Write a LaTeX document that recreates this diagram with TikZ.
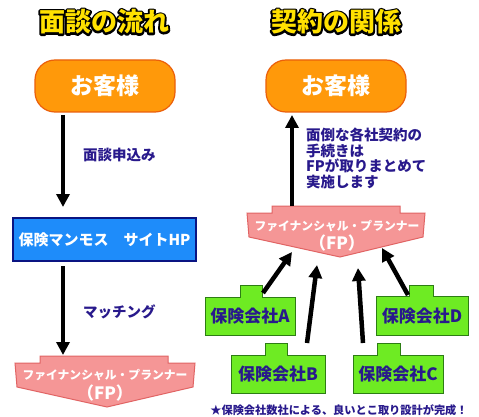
\documentclass[tikz,border=0pt]{standalone}
\usepackage{fontspec}
\setmainfont{Noto Sans CJK JP}
\usetikzlibrary{arrows.meta}
\definecolor{orfill}{RGB}{255,153,10}
\definecolor{ordraw}{RGB}{235,95,10}
\definecolor{bluefill}{RGB}{30,140,250}
\definecolor{bluedraw}{RGB}{10,20,130}
\definecolor{pinkfill}{RGB}{245,150,150}
\definecolor{pinkdraw}{RGB}{225,100,100}
\definecolor{grfill}{RGB}{110,235,35}
\definecolor{grdraw}{RGB}{45,125,20}
\definecolor{navy}{RGB}{40,25,140}
\definecolor{titley}{RGB}{255,225,0}
\newcommand{\strokedtext}[1]{\special{pdf:literal direct 1 j 3.8 w 2 Tr}#1\special{pdf:literal direct 0 Tr 0.4 w}}
\tikzset{
  titletext/.style={inner sep=0pt, font=\fontsize{26}{28}\selectfont\bfseries, text=titley},
  titleback/.style={inner sep=0pt, font=\fontsize{26}{28}\selectfont\bfseries, text=black},
  custbox/.style={draw=ordraw, fill=orfill, line width=1.2pt, rounded corners=20pt,
    minimum width=140pt, minimum height=52pt, text=white, font=\fontsize{23}{25}\selectfont\bfseries},
  sitebox/.style={draw=bluedraw, fill=bluefill, line width=1.4pt,
    minimum width=183pt, minimum height=43pt, text=white, font=\fontsize{15}{17}\selectfont\bfseries},
  fpshape/.style={draw=pinkdraw, fill=pinkfill, line width=1pt},
  fptext/.style={inner sep=0pt, text=white, font=\fontsize{11.8}{13}\selectfont\bfseries},
  fpsub/.style={inner sep=0pt, text=white, font=\fontsize{17}{18}\selectfont\bfseries},
  grshape/.style={draw=grdraw, fill=grfill, line width=1pt},
  grtext/.style={inner sep=0pt, text=navy, font=\fontsize{17}{19}\selectfont\bfseries},
  lbl/.style={inner sep=0pt, text=navy, font=\fontsize{14.5}{15.5}\selectfont\bfseries},
  bigarrow/.style={line width=4.5pt, -{Triangle[length=13pt,width=13pt]}},
}
\begin{document}
\begin{tikzpicture}[x=1pt,y=-1pt]
\useasboundingbox (0,0) rectangle (479,417);
\fill[white] (0,0) rectangle (479,417);

% titles (black stroked layer under yellow layer)
\node[titleback] (t1s) at (104,22) {\strokedtext{面談の流れ}};
\node[titletext] (t1) at (104,22) {面談の流れ};
\node[titleback] (t2s) at (336,22) {\strokedtext{契約の関係}};
\node[titletext] (t2) at (336,22) {契約の関係};

% customer boxes
\node[custbox] (c1) at (105,86) {お客様};
\node[custbox] (c2) at (336,86) {お客様};

% site box
\node[sitebox] (hp) at (104.5,239.5) {保険マンモス　サイトHP};

% left FP shape
\path[fpshape] (40,356) -- (168,356) -- (168,363) -- (195,363) -- (193,387)
  -- (107,407) -- (17,387) -- (15,363) -- (40,363) -- cycle;
\node[fptext] (fp1a) at (105,375) {ファイナンシャル・プランナー};
\node[fpsub] (fp1b) at (105,393) {（FP）};

% right FP shape
\path[fpshape] (272,206) -- (400,206) -- (400,213) -- (425,213) -- (423,237)
  -- (340,257) -- (249,237) -- (247,213) -- (272,213) -- cycle;
\node[fptext] (fp2a) at (337,226) {ファイナンシャル・プランナー};
\node[fpsub] (fp2b) at (337,243) {（FP）};

% green boxes
\path[grshape] (205,297) -- (240,297) -- (240,285) -- (262,285) -- (262,297)
  -- (295,297) -- (295,335) -- (205,335) -- cycle;
\node[grtext] (ga) at (250,316) {保険会社A};
\path[grshape] (231,355) -- (265,355) -- (265,343) -- (287,343) -- (287,355)
  -- (325,355) -- (325,393) -- (231,393) -- cycle;
\node[grtext] (gb) at (278,374) {保険会社B};
\path[grshape] (353,355) -- (377,355) -- (377,343) -- (400,343) -- (400,355)
  -- (443,355) -- (443,393) -- (353,393) -- cycle;
\node[grtext] (gc) at (398,374) {保険会社C};
\path[grshape] (376,296) -- (409,296) -- (409,285) -- (433,285) -- (433,296)
  -- (468,296) -- (468,335) -- (376,335) -- cycle;
\node[grtext] (gd) at (422,316) {保険会社D};

% arrow end coordinates
\coordinate (a1s) at (63,115);
\coordinate (a1e) at (63,207);
\coordinate (a2s) at (63,266);
\coordinate (a2e) at (63,355);
\coordinate (a3s) at (292,206);
\coordinate (a3e) at (292,115);
\coordinate (aAs) at (263,293);
\coordinate (aAe) at (292,252);
\coordinate (aBs) at (307,343);
\coordinate (aBe) at (317,265);
\coordinate (aCs) at (363,343);
\coordinate (aCe) at (358,268);
\coordinate (aDs) at (408,295);
\coordinate (aDe) at (382,248);

\draw[bigarrow] (a1s) -- (a1e);
\draw[bigarrow] (a2s) -- (a2e);
\draw[bigarrow] (a3s) -- (a3e);
\draw[bigarrow] (aAs) -- (aAe);
\draw[bigarrow] (aBs) -- (aBe);
\draw[bigarrow] (aCs) -- (aCe);
\draw[bigarrow] (aDs) -- (aDe);

% labels
\node[lbl, anchor=west] (l1) at (83,155) {面談申込み};
\node[lbl, anchor=west] (l2) at (83,312) {マッチング};
\node[lbl, anchor=north west, align=left] (l3) at (306,128)
  {面倒な各社契約の\\手続きは\\FPが取りまとめて\\実施します};
\node[inner sep=0pt, text=navy, font=\fontsize{11.2}{12}\selectfont\bfseries] (foot) at (339,410)
  {★保険会社数社による、良いとこ取り設計が完成！};
\end{tikzpicture}
\end{document}
